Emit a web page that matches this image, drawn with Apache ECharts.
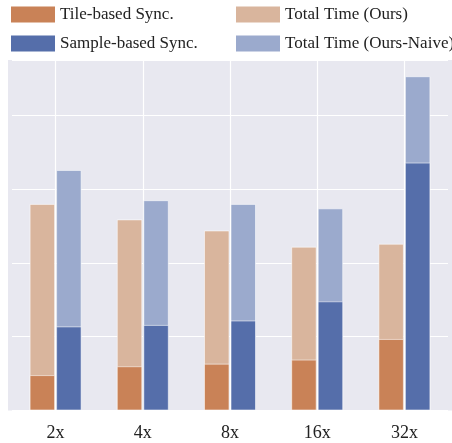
<!DOCTYPE html>
<html>
<head>
<meta charset="utf-8">
<script src="https://cdn.jsdelivr.net/npm/echarts@6/dist/echarts.min.js"></script>
<style>
html,body{margin:0;padding:0;background:#fff;}
#chart{width:452px;height:443px;}
</style>
</head>
<body>
<div id="chart"></div>
<script>
const categories = ['2x', '4x', '8x', '16x', '32x'];
const tileSync = [0.48, 0.60, 0.635, 0.69, 0.97];
const totalOurs = [2.80, 2.59, 2.44, 2.22, 2.26];
const sampleSync = [1.14, 1.16, 1.22, 1.48, 3.36];
const totalNaive = [3.26, 2.85, 2.80, 2.74, 4.53];

const C_TILE = '#C98257';
const C_OURS = '#D9B59D';
const C_SAMPLE = '#556EAA';
const C_NAIVE = '#9BAACD';
const FONT = 'Liberation Serif';

const chart = echarts.init(document.getElementById('chart'));
const barCommon = {
  type: 'bar',
  barWidth: 25.5,
  barGap: '4%',
  itemStyle: { borderColor: 'rgba(255,255,255,0.55)', borderWidth: 1 },
  emphasis: { disabled: true },
  animation: false
};
const legendCommon = {
  orient: 'vertical',
  top: 6,
  itemWidth: 44,
  itemHeight: 16,
  itemGap: 12,
  icon: 'rect',
  selectedMode: false,
  padding: 0,
  textStyle: { fontFamily: FONT, fontSize: 17, color: '#222', padding: [0, 0, 0, 0] },
  itemStyle: { borderWidth: 0 }
};
chart.setOption({
  animation: false,
  graphic: [{
    type: 'rect', z: -100, silent: true,
    shape: { x: 8, y: 60, width: 444, height: 350.5 },
    style: { fill: '#E8E8F0' }
  }],
  legend: [
    Object.assign({}, legendCommon, { left: 11, data: ['Tile-based Sync.', 'Sample-based Sync.'] }),
    Object.assign({}, legendCommon, { left: 236, data: ['Total Time (Ours)', 'Total Time (Ours-Naive)'] })
  ],
  grid: { left: 12, right: 4, top: 60, bottom: 32.5, show: false },
  xAxis: [
    {
      type: 'category', data: categories,
      axisLine: { show: false }, axisTick: { show: false },
      axisLabel: { fontFamily: FONT, fontSize: 18, color: '#222', margin: 14 },
      splitLine: { show: true, alignWithLabel: true, lineStyle: { color: '#fff', width: 1.2 } }
    },
    {
      type: 'category', data: categories, show: false
    }
  ],
  yAxis: {
    type: 'value', min: 0, max: 4.75, interval: 1,
    axisLabel: { show: false }, axisLine: { show: false }, axisTick: { show: false },
    splitLine: { show: true, lineStyle: { color: '#fff', width: 1.2 } }
  },
  series: [
    Object.assign({}, barCommon, { name: 'Total Time (Ours)', xAxisIndex: 0, data: totalOurs, itemStyle: Object.assign({}, barCommon.itemStyle, { color: C_OURS }) }),
    Object.assign({}, barCommon, { name: 'Total Time (Ours-Naive)', xAxisIndex: 0, data: totalNaive, itemStyle: Object.assign({}, barCommon.itemStyle, { color: C_NAIVE }) }),
    Object.assign({}, barCommon, { name: 'Tile-based Sync.', xAxisIndex: 1, data: tileSync, itemStyle: Object.assign({}, barCommon.itemStyle, { color: C_TILE }) }),
    Object.assign({}, barCommon, { name: 'Sample-based Sync.', xAxisIndex: 1, data: sampleSync, itemStyle: Object.assign({}, barCommon.itemStyle, { color: C_SAMPLE }) })
  ]
});
</script>
</body>
</html>
